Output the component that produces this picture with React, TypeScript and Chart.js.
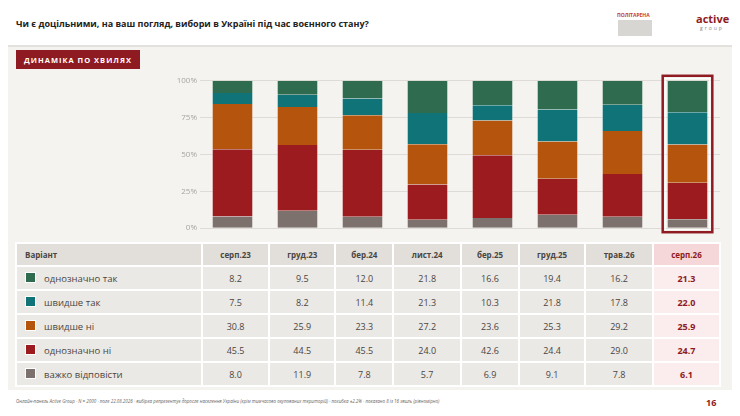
import { useEffect, useRef } from 'react'
import { Chart, registerables, type Plugin } from 'chart.js'

Chart.register(...registerables)

const waves = ['серп.23', 'груд.23', 'бер.24', 'лист.24', 'бер.25', 'груд.25', 'трав.26', 'серп.26']
const definitelyYes = [8.2, 9.5, 12.0, 21.8, 16.6, 19.4, 16.2, 21.3]
const ratherYes = [7.5, 8.2, 11.4, 21.3, 10.3, 21.8, 17.8, 22.0]
const ratherNo = [30.8, 25.9, 23.3, 27.2, 23.6, 25.3, 29.2, 25.9]
const definitelyNo = [45.5, 44.5, 45.5, 24.0, 42.6, 24.4, 29.0, 24.7]
const hardToSay = [8.0, 11.9, 7.8, 5.7, 6.9, 9.1, 7.8, 6.1]

const RED = '#8e1a22'
const series = [
  { label: 'однозначно так', data: definitelyYes, color: '#2e6b4f' },
  { label: 'швидше так', data: ratherYes, color: '#0f7377' },
  { label: 'швидше ні', data: ratherNo, color: '#b5540c' },
  { label: 'однозначно ні', data: definitelyNo, color: '#9b1b1f' },
  { label: 'важко відповісти', data: hardToSay, color: '#7c716c' },
]

const FONT = "'Open Sans', 'Noto Sans', sans-serif"

// outline around the latest wave
const highlight: Plugin<'bar'> = {
  id: 'highlight',
  afterDatasetsDraw(chart) {
    const meta = chart.getDatasetMeta(0)
    const bar = meta.data[meta.data.length - 1] as any
    if (!bar) return
    const { ctx, chartArea } = chart
    const half = bar.width / 2 + 4
    ctx.save()
    ctx.strokeStyle = RED
    ctx.lineWidth = 2.5
    ctx.strokeRect(bar.x - half, chartArea.top - 5, half * 2, chartArea.bottom - chartArea.top + 9)
    ctx.strokeStyle = '#ffffff'
    ctx.lineWidth = 1
    ctx.strokeRect(bar.x - half + 2.5, chartArea.top - 2.5, half * 2 - 5, chartArea.bottom - chartArea.top + 4)
    ctx.restore()
  },
}

function StackChart() {
  const ref = useRef<HTMLCanvasElement>(null)
  useEffect(() => {
    if (!ref.current) return
    const chart = new Chart(ref.current, {
      type: 'bar',
      data: {
        labels: waves,
        datasets: [...series].reverse().map((s) => ({
          label: s.label,
          data: s.data,
          backgroundColor: s.color,
          borderColor: 'rgba(255,255,255,0.5)',
          borderWidth: { left: 1, right: 1, top: 0, bottom: 0 },
          categoryPercentage: 1,
          barPercentage: 0.64,
        })),
      },
      options: {
        animation: false,
        responsive: true,
        maintainAspectRatio: false,
        layout: { padding: { top: 6, bottom: 3, right: 0 } },
        plugins: { legend: { display: false }, tooltip: { enabled: false } },
        scales: {
          x: { stacked: true, display: false },
          y: {
            stacked: true,
            min: 0,
            max: 100,
            afterFit: (s) => { s.width = 40 },
            ticks: {
              stepSize: 25,
              color: '#a9a5a0',
              font: { family: FONT, size: 8 },
              callback: (v) => v + '%',
            },
            grid: { color: '#dedbd6', drawTicks: false },
            border: { display: false },
          },
        },
      },
      plugins: [highlight],
    })
    return () => chart.destroy()
  }, [])
  return <canvas ref={ref} />
}

const cell: React.CSSProperties = {
  background: '#ebe9e5',
  textAlign: 'center',
  height: 21,
  padding: 0,
  color: '#4a4542',
}

export default function App() {
  return (
    <div style={{ position: 'relative', width: 740, height: 416, margin: -8, fontFamily: FONT, background: '#fff', overflow: 'hidden' }}>
      <div style={{ position: 'absolute', left: 16, top: 17, fontSize: 9, fontWeight: 700, color: '#222' }}>
        Чи є доцільними, на ваш погляд, вибори в Україні під час воєнного стану?
      </div>
      <div style={{ position: 'absolute', left: 617, top: 12, fontSize: 5, color: '#c23a3a', fontWeight: 700 }}>ПОЛІТАРЕНА</div>
      <div style={{ position: 'absolute', left: 618, top: 20, width: 34, height: 16, background: '#d8d6d3' }} />
      <div style={{ position: 'absolute', left: 696, top: 13, fontSize: 11, color: RED, fontWeight: 700, lineHeight: 1 }}>active</div>
      <div style={{ position: 'absolute', left: 700, top: 25, fontSize: 5, color: '#888', letterSpacing: 2 }}>group</div>
      <div style={{ position: 'absolute', left: 0, top: 45, width: 737, height: 343, background: '#f4f3f0', borderTop: '2px solid #e3e1de' }} />
      <div style={{ position: 'absolute', left: 16, top: 50, width: 124, height: 19, background: RED, color: '#fff', fontSize: 7.5, fontWeight: 700, letterSpacing: 1, display: 'flex', alignItems: 'center', justifyContent: 'center' }}>
        ДИНАМІКА ПО ХВИЛЯХ
      </div>
      <div style={{ position: 'absolute', left: 160, top: 73, width: 560, height: 163 }}>
        <StackChart />
      </div>
      <table style={{ position: 'absolute', left: 15, top: 242, width: 706, borderSpacing: 2, background: '#fff', fontSize: 9 }}>
        <thead>
          <tr>
            <th style={{ ...cell, background: '#e2dfda', textAlign: 'left', paddingLeft: 8, width: 176, fontSize: 8 }}>Варіант</th>
            {waves.map((w, i) => (
              <th key={w} style={{ ...cell, background: i === 7 ? '#f5d7da' : '#e2dfda', color: i === 7 ? RED : '#4a4542', fontSize: 8 }}>{w}</th>
            ))}
          </tr>
        </thead>
        <tbody>
          {series.map((s) => (
            <tr key={s.label}>
              <td style={{ ...cell, height: 22, textAlign: 'left', paddingLeft: 8, fontSize: 9.5 }}>
                <span style={{ display: 'inline-block', width: 9, height: 9, background: s.color, marginRight: 8, verticalAlign: -1, border: '1px solid #fff' }} />
                {s.label}
              </td>
              {s.data.map((v, i) => (
                <td key={i} style={{ ...cell, background: i === 7 ? '#fbecee' : '#ebe9e5', color: i === 7 ? RED : '#4a4542', fontWeight: i === 7 ? 700 : 400 }}>
                  {v.toFixed(1)}
                </td>
              ))}
            </tr>
          ))}
        </tbody>
      </table>
      <div style={{ position: 'absolute', left: 0, top: 390, width: 737, height: 26, borderBottom: '2px solid #e3e1de' }} />
      <div style={{ position: 'absolute', left: 16, top: 398, fontSize: 4.5, fontStyle: 'italic', color: '#666' }}>
        Онлайн-панель Active Group · N = 2000 · поле 22.08.2026 · вибірка репрезентує доросле населення України (крім тимчасово окупованих територій) · похибка ±2.2% · показано 8 із 16 хвиль (рівномірно)
      </div>
      <div style={{ position: 'absolute', left: 706, top: 396, fontSize: 9, fontWeight: 700, color: RED }}>16</div>
    </div>
  )
}
